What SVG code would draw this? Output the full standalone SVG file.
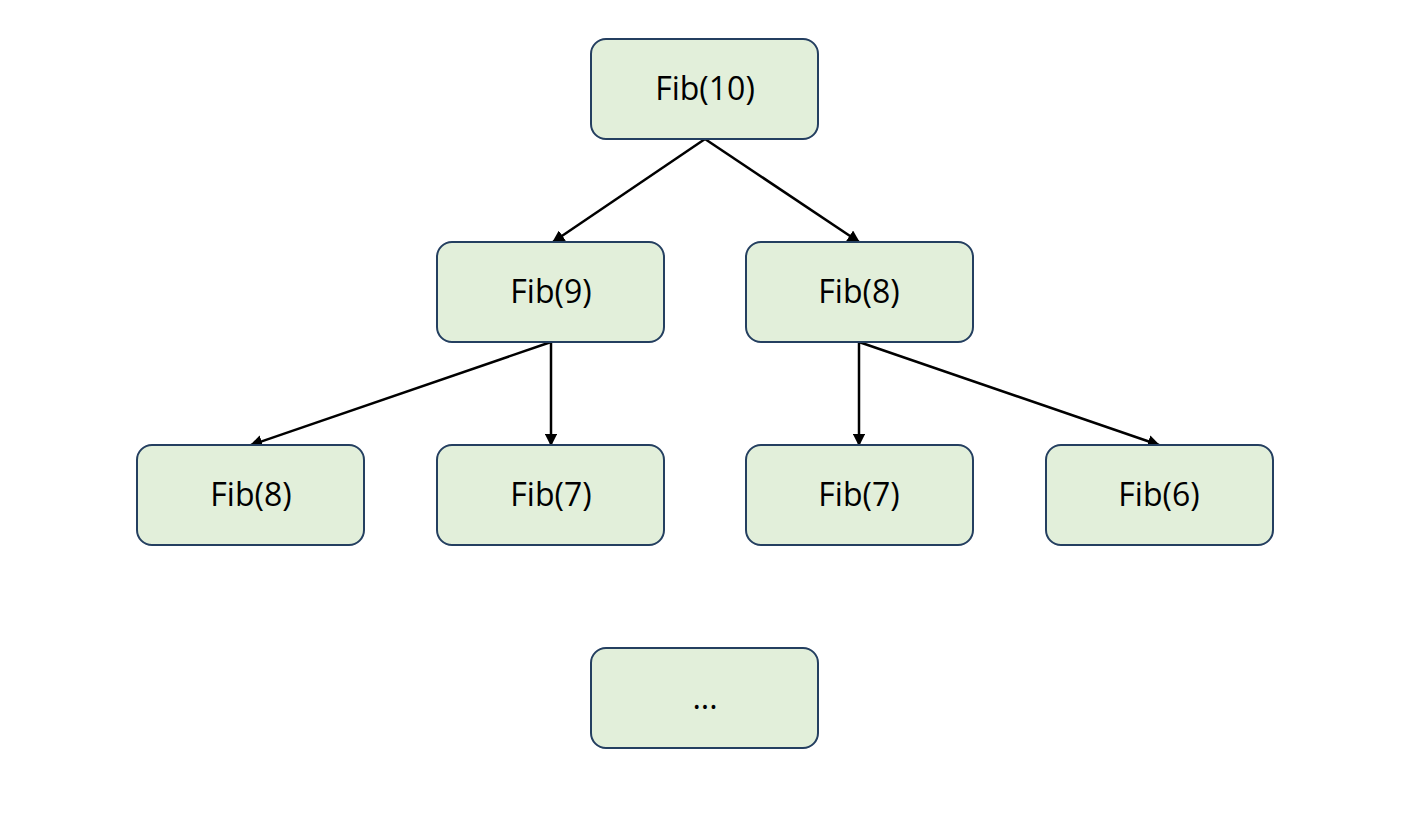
<svg xmlns="http://www.w3.org/2000/svg" width="1420" height="827" viewBox="0 0 1420 827">
  <style>
    .box { fill: #E2EFDA; stroke: #243F60; stroke-width: 2; }
    .lbl { font-family: "Open Sans", "Liberation Sans", sans-serif; font-size: 32px; fill: #000; text-anchor: middle; dominant-baseline: central; }
    .edge { stroke: #000; stroke-width: 2.5; fill: none; marker-end: url(#arrow); }
  </style>
  <defs>
    <marker id="arrow" viewBox="0 0 10 10" refX="9" refY="5" markerWidth="5" markerHeight="5" orient="auto" markerUnits="strokeWidth">
      <path d="M0,0 L10,5 L0,10 z" fill="#000"/>
    </marker>
  </defs>
  <rect width="1420" height="827" fill="#fff"/>

  <g id="connectors">
    <line class="edge" x1="705" y1="139" x2="553" y2="242"/>
    <line class="edge" x1="705" y1="139" x2="859" y2="242"/>
    <line class="edge" x1="551" y1="342" x2="251" y2="445"/>
    <line class="edge" x1="551" y1="342" x2="551" y2="445"/>
    <line class="edge" x1="859" y1="342" x2="859" y2="445"/>
    <line class="edge" x1="859" y1="342" x2="1159" y2="445"/>
  </g>

  <g id="fib10">
    <rect class="box" x="591" y="39" width="227" height="100" rx="15"/>
    <text class="lbl" x="705" y="87">Fib(10)</text>
  </g>
  <g id="fib9">
    <rect class="box" x="437" y="242" width="227" height="100" rx="15"/>
    <text class="lbl" x="551" y="290">Fib(9)</text>
  </g>
  <g id="fib8-a">
    <rect class="box" x="746" y="242" width="227" height="100" rx="15"/>
    <text class="lbl" x="859" y="290">Fib(8)</text>
  </g>
  <g id="fib8-b">
    <rect class="box" x="137" y="445" width="227" height="100" rx="15"/>
    <text class="lbl" x="251" y="493">Fib(8)</text>
  </g>
  <g id="fib7-a">
    <rect class="box" x="437" y="445" width="227" height="100" rx="15"/>
    <text class="lbl" x="551" y="493">Fib(7)</text>
  </g>
  <g id="fib7-b">
    <rect class="box" x="746" y="445" width="227" height="100" rx="15"/>
    <text class="lbl" x="859" y="493">Fib(7)</text>
  </g>
  <g id="fib6">
    <rect class="box" x="1046" y="445" width="227" height="100" rx="15"/>
    <text class="lbl" x="1159" y="493">Fib(6)</text>
  </g>
  <g id="more">
    <rect class="box" x="591" y="648" width="227" height="100" rx="15"/>
    <text class="lbl" x="705" y="696">...</text>
  </g>
</svg>
